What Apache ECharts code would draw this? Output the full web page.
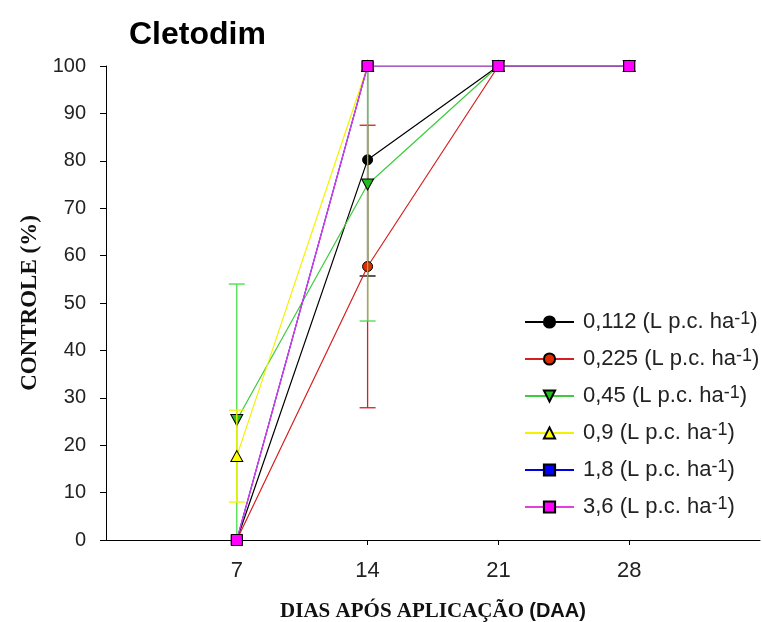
<!DOCTYPE html>
<html><head><meta charset="utf-8">
<script src="https://cdn.jsdelivr.net/npm/echarts@6/dist/echarts.min.js"></script>
<style>html,body{margin:0;padding:0;background:#fff}#c{width:762px;height:622px}</style>
</head><body><div id="c"></div>
<script>
// ---- data ----
const days = [7, 14, 21, 28];
const doses = ['0,112', '0,225', '0,45', '0,9', '1,8', '3,6'];
const v0112 = [0, 80.2, 100, 100];
const v0225 = [0, 57.7, 100, 100];
const v045 = [25.3, 75, 100, 100];
const v09 = [17.7, 100, 100, 100];
const v18 = [0, 100, 100, 100];
const v36 = [0, 100, 100, 100];
// half-width of error bars (null = none)
const e0112 = [null, 24.5, null, null];
const e0225 = [null, 29.8, null, null];
const e045 = [28.7, 28.8, null, null];
const e09 = [9.7, null, null, null];
const e18 = [null, null, null, null];
const e36 = [null, null, null, null];
const xTickValues = [7, 14, 21, 28];
const titleText = 'Cletodim';
const unitText = ' (L p.c. ha';

// ---- styles ----
const lineColors = ['#000000', '#d42020', '#3ccc3c', '#f2f200', '#0000e0', '#e040e0'];
const fillColors = ['#000000', '#e02a00', '#22bb22', '#ffff00', '#0000ff', '#ff00ff'];
const errColors  = ['#000000', '#d42020', '#44dd44', '#f2f200', '#0000e0', '#e040e0'];
const symbols = ['circle', 'circle', 'path://M0,0 L10,0 L5,9 Z', 'path://M5,0 L10,9 L0,9 Z', 'rect', 'rect'];
const symSizes = [10, 10, [12, 11], [12, 11], 11, 11];

const valueSets = [v0112, v0225, v045, v09, v18, v36];
const errSets = [e0112, e0225, e045, e09, e18, e36];

const series = [];
doses.forEach((name, k) => {
  series.push({
    type: 'line', name: name,
    data: days.map((d, i) => [d, valueSets[k][i]]),
    symbol: symbols[k], symbolSize: symSizes[k],
    lineStyle: { color: lineColors[k], width: 1.2 },
    itemStyle: { color: fillColors[k], borderColor: '#000', borderWidth: 1 },
    emphasis: { disabled: true },
    z: 2 + k * 2
  });
  const errData = [];
  days.forEach((d, i) => { if (errSets[k][i] != null) errData.push([d, valueSets[k][i], errSets[k][i]]); });
  if (errData.length) {
    const col = errColors[k];
    series.push({
      type: 'custom', name: 'err' + k,
      data: errData,
      encode: { x: 0, y: 1 },
      z: 2 + k * 2 - 1,
      silent: true,
      renderItem: function (params, api) {
        const x = api.value(0), m = api.value(1), e = api.value(2);
        const lo = Math.max(0, m - e), hi = Math.min(100, m + e);
        const pLo = api.coord([x, lo]), pHi = api.coord([x, hi]);
        const hw = 8;
        const ch = [{ type: 'line', shape: { x1: pLo[0], y1: pLo[1], x2: pHi[0], y2: pHi[1] }, style: { stroke: col, lineWidth: 1.3 } }];
        if (m + e <= 100) ch.push({ type: 'line', shape: { x1: pHi[0] - hw, y1: pHi[1], x2: pHi[0] + hw, y2: pHi[1] }, style: { stroke: col, lineWidth: 1.3 } });
        if (m - e >= 0) ch.push({ type: 'line', shape: { x1: pLo[0] - hw, y1: pLo[1], x2: pLo[0] + hw, y2: pLo[1] }, style: { stroke: col, lineWidth: 1.3 } });
        return { type: 'group', children: ch };
      }
    });
  }
});

const chart = echarts.init(document.getElementById('c'), null, { renderer: 'canvas' });
chart.setOption({
  animation: false,
  backgroundColor: '#fff',
  title: {
    text: titleText, left: 124, top: 14,
    textStyle: { fontFamily: 'Arial, Liberation Sans', fontWeight: 'bold', fontSize: 32, color: '#000' }
  },
  grid: { left: 106, right: 2, top: 66, bottom: 82, outerBoundsMode: 'none', containLabel: false },
  legend: {
    orient: 'vertical', left: 519, top: 305,
    data: doses, itemWidth: 49, itemHeight: 14, itemGap: 14,
    selectedMode: false,
    formatter: function (n) { return '{a|' + n + unitText + '}{s|-1}{a|)}'; },
    textStyle: {
      padding: [0, 0, 0, 4],
      rich: {
        a: { fontFamily: 'Arial, Liberation Sans', fontSize: 22, lineHeight: 24, color: '#222' },
        s: { fontFamily: 'Arial, Liberation Sans', fontSize: 18, lineHeight: 17, verticalAlign: 'top', color: '#222' }
      }
    }
  },
  xAxis: {
    type: 'value', min: 0, max: 35, interval: 7,
    name: '{b|DIAS APÓS APLICAÇÃO }{c|(DAA)}', nameLocation: 'middle', nameGap: 61,
    nameTextStyle: {
      rich: {
        b: { fontFamily: 'Liberation Serif, Times New Roman', fontWeight: 'bold', fontSize: 21, color: '#111' },
        c: { fontFamily: 'Arial, Liberation Sans', fontWeight: 'bold', fontSize: 20, color: '#111' }
      }
    },
    axisLine: { lineStyle: { color: '#000', width: 1 } },
    axisTick: { show: true, customValues: xTickValues, length: 5, lineStyle: { color: '#000' } },
    axisLabel: { customValues: xTickValues, fontFamily: 'Arial, Liberation Sans', fontSize: 22, color: '#222', margin: 20 },
    splitLine: { show: false }
  },
  yAxis: {
    type: 'value', min: 0, max: 100, interval: 10,
    name: 'CONTROLE (%)', nameLocation: 'middle', nameGap: 60,
    nameTextStyle: { fontFamily: 'Liberation Serif, Times New Roman', fontWeight: 'bold', fontSize: 23, color: '#111' },
    axisLine: { show: true, lineStyle: { color: '#000', width: 1 } },
    axisTick: { show: true, length: 6, lineStyle: { color: '#000' } },
    axisLabel: { fontFamily: 'Arial, Liberation Sans', fontSize: 20, color: '#222', margin: 20 },
    splitLine: { show: false }
  },
  series: series
});
</script>
</body></html>
